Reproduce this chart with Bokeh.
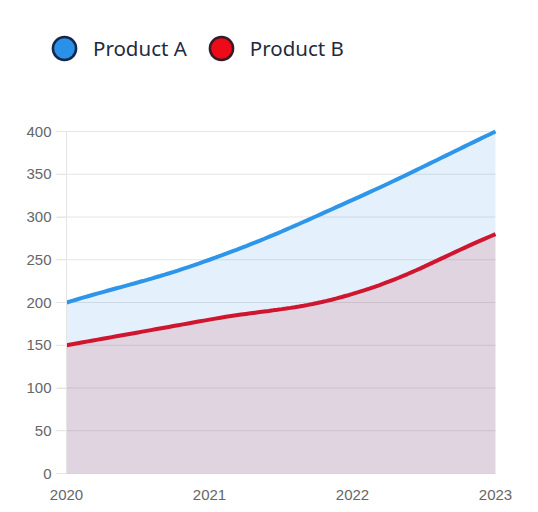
import math
from bokeh.plotting import figure
from bokeh.models import Range1d, FixedTicker, Legend, LegendItem
from bokeh.embed import file_html
from bokeh.resources import INLINE

# ---- data ----
years = [2020, 2021, 2022, 2023]
product_a = [200, 250, 320, 400]
product_b = [150, 180, 210, 280]
series_names = ["Product A", "Product B"]
y_ticks = [0, 50, 100, 150, 200, 250, 300, 350, 400]
y_max = 400

# ---- layout (pixels) ----
W, H = 538, 512
PLOT_L, PLOT_R, PLOT_T, PLOT_B = 66, 495, 131, 473   # where the data area sits
TICK_LEN = 10
LEGEND_LEFT, LEGEND_BOTTOM = 35, 77                  # legend box, from canvas top-left

# ---- styles ----
BLUE = "#2E96EA"
RED = "#D0152E"
LEG_BLUE = "#2B90E8"
LEG_RED = "#EE0A16"
TEXT = "#1F2B3C"
GRID = "#E5E5E5"
TICK_TEXT = "#666666"

px_per_x = (PLOT_R - PLOT_L) / (years[-1] - years[0])
px_per_y = (PLOT_B - PLOT_T) / y_max


def spline_path(xs, ys, x_px, y_px, tension=0.4, steps=30):
    """Chart.js-style cubic spline through the data points (rendering only)."""
    P = [(x * x_px, y * y_px) for x, y in zip(xs, ys)]
    n = len(P)
    cps = []
    for i in range(n):
        prev = P[i - 1] if i > 0 else P[i]
        cur = P[i]
        nxt = P[i + 1] if i < n - 1 else P[i]
        d01 = math.dist(prev, cur)
        d12 = math.dist(cur, nxt)
        tot = d01 + d12
        s01 = d01 / tot if tot else 0
        s12 = d12 / tot if tot else 0
        fa, fb = tension * s01, tension * s12
        cp_prev = (cur[0] - fa * (nxt[0] - prev[0]), cur[1] - fa * (nxt[1] - prev[1]))
        cp_next = (cur[0] + fb * (nxt[0] - prev[0]), cur[1] + fb * (nxt[1] - prev[1]))
        cps.append((cp_prev, cp_next))
    ox, oy = [], []
    for i in range(n - 1):
        p0, p1, p2, p3 = P[i], cps[i][1], cps[i + 1][0], P[i + 1]
        for k in range(steps + (1 if i == n - 2 else 0)):
            t = k / steps
            mt = 1 - t
            bx = mt**3 * p0[0] + 3 * mt**2 * t * p1[0] + 3 * mt * t**2 * p2[0] + t**3 * p3[0]
            by = mt**3 * p0[1] + 3 * mt**2 * t * p1[1] + 3 * mt * t**2 * p2[1] + t**3 * p3[1]
            ox.append(bx / x_px)
            oy.append(by / y_px)
    return ox, oy


x_range = Range1d(years[0] - PLOT_L / px_per_x, years[-1] + (W - PLOT_R) / px_per_x)
y_range = Range1d(-(H - PLOT_B) / px_per_y, PLOT_B / px_per_y)

p = figure(width=W, height=H, x_range=x_range, y_range=y_range,
           output_backend="svg", toolbar_location=None, min_border=0)
p.outline_line_color = None

# horizontal grid lines (from the tick list), extending left as tick marks
grid_x0 = years[0] - TICK_LEN / px_per_x
p.segment(x0=[grid_x0] * len(y_ticks), y0=y_ticks, x1=[years[-1]] * len(y_ticks), y1=y_ticks,
          line_color=GRID, line_width=1)

xa, ya = spline_path(years, product_a, px_per_x, px_per_y)
xb, yb = spline_path(years, product_b, px_per_x, px_per_y)

p.varea(x=xa, y1=[0] * len(xa), y2=ya, fill_color=BLUE, fill_alpha=0.13)
p.varea(x=xb, y1=[0] * len(xb), y2=yb, fill_color=RED, fill_alpha=0.13)
p.line(xa, ya, line_color=BLUE, line_width=4)
p.line(xb, yb, line_color=RED, line_width=4)

# legend markers (not drawn in the plot: NaN position, only shown in the legend)
nan = float("nan")
la = p.scatter(x=[nan], y=[nan], size=23, fill_color=LEG_BLUE, line_color="#14284A", line_width=2.5)
lb = p.scatter(x=[nan], y=[nan], size=23, fill_color=LEG_RED, line_color="#3A1A28", line_width=2.5)

legend = Legend(items=[LegendItem(label=series_names[0], renderers=[la]),
                       LegendItem(label=series_names[1], renderers=[lb])],
                orientation="horizontal", location=(LEGEND_LEFT, H - LEGEND_BOTTOM),
                glyph_width=58, glyph_height=58, label_standoff=0, spacing=5,
                padding=0, margin=0, border_line_color=None, background_fill_alpha=0,
                label_text_font="Noto Sans", label_text_font_size="20.5px",
                label_text_color=TEXT, click_policy="none")
p.add_layout(legend, "center")

# axes
p.xaxis.ticker = FixedTicker(ticks=years)
p.yaxis.ticker = FixedTicker(ticks=y_ticks)
p.yaxis.fixed_location = years[0]
p.yaxis.bounds = (0, y_max)
p.xaxis.fixed_location = 0
p.grid.visible = False

p.yaxis.axis_line_color = GRID
p.yaxis.major_tick_line_color = GRID
p.yaxis.major_tick_out = TICK_LEN
p.yaxis.major_tick_in = 0
p.yaxis.minor_tick_line_color = None
p.yaxis.major_label_standoff = 5

p.xaxis.axis_line_color = None
p.xaxis.major_tick_line_color = None
p.xaxis.minor_tick_line_color = None
p.xaxis.major_label_standoff = 10

for ax in (p.xaxis, p.yaxis):
    ax.major_label_text_font = "Liberation Sans"
    ax.major_label_text_font_size = "15px"
    ax.major_label_text_color = TICK_TEXT

open("out.html", "w").write(file_html(p, INLINE))
